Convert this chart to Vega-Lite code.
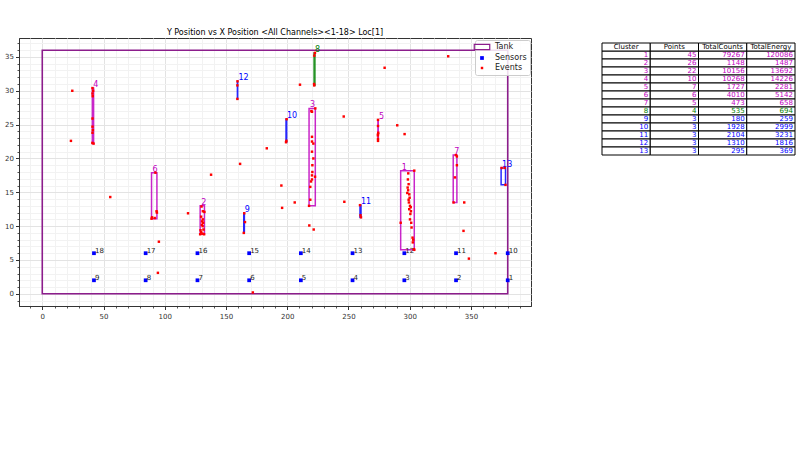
{
  "$schema": "https://vega.github.io/schema/vega-lite/v6.json",
  "padding": {"left": 4, "top": 28, "right": 0, "bottom": 0},
  "bounds": "flush",
  "spacing": 71,
  "config": {"font": "DejaVu Sans", "view": {"stroke": "#333", "strokeWidth": 1}},
  "datasets": {
    "clusters": [
      {"Cluster": 1, "Points": 45, "TotalCounts": 79267, "TotalEnergy": 120086, "xmin": 292.6, "xmax": 303.7, "ymin": 6.5, "ymax": 18.2},
      {"Cluster": 2, "Points": 26, "TotalCounts": 1148, "TotalEnergy": 1487, "xmin": 128.9, "xmax": 132.4, "ymin": 8.8, "ymax": 13.0},
      {"Cluster": 3, "Points": 22, "TotalCounts": 10156, "TotalEnergy": 13692, "xmin": 217.8, "xmax": 222.9, "ymin": 13.0, "ymax": 27.4},
      {"Cluster": 4, "Points": 10, "TotalCounts": 10268, "TotalEnergy": 14226, "xmin": 40.9, "xmax": 41.9, "ymin": 22.2, "ymax": 30.4},
      {"Cluster": 5, "Points": 7, "TotalCounts": 1727, "TotalEnergy": 2281, "xmin": 274.0, "xmax": 274.3, "ymin": 22.6, "ymax": 25.7},
      {"Cluster": 6, "Points": 6, "TotalCounts": 4010, "TotalEnergy": 5142, "xmin": 89.2, "xmax": 93.6, "ymin": 11.1, "ymax": 17.9},
      {"Cluster": 7, "Points": 5, "TotalCounts": 473, "TotalEnergy": 658, "xmin": 335.5, "xmax": 338.5, "ymin": 13.5, "ymax": 20.5},
      {"Cluster": 8, "Points": 4, "TotalCounts": 535, "TotalEnergy": 694, "xmin": 221.9, "xmax": 222.6, "ymin": 30.8, "ymax": 35.6},
      {"Cluster": 9, "Points": 3, "TotalCounts": 180, "TotalEnergy": 259, "xmin": 164.5, "xmax": 165.0, "ymin": 9.0, "ymax": 11.9},
      {"Cluster": 10, "Points": 3, "TotalCounts": 1928, "TotalEnergy": 2999, "xmin": 199.0, "xmax": 199.5, "ymin": 22.4, "ymax": 25.8},
      {"Cluster": 11, "Points": 3, "TotalCounts": 2104, "TotalEnergy": 3231, "xmin": 259.4, "xmax": 260.2, "ymin": 11.3, "ymax": 13.1},
      {"Cluster": 12, "Points": 3, "TotalCounts": 1310, "TotalEnergy": 1816, "xmin": 159.3, "xmax": 159.5, "ymin": 28.8, "ymax": 31.4},
      {"Cluster": 13, "Points": 3, "TotalCounts": 295, "TotalEnergy": 369, "xmin": 374.6, "xmax": 378.2, "ymin": 16.1, "ymax": 18.6}
    ],
    "tank": [{"xmin": 0, "xmax": 380, "ymin": 0, "ymax": 36}],
    "sensors": [
      {"id": 1, "x": 380.0, "y": 2}, {"id": 2, "x": 337.8, "y": 2}, {"id": 3, "x": 295.6, "y": 2},
      {"id": 4, "x": 253.3, "y": 2}, {"id": 5, "x": 211.1, "y": 2}, {"id": 6, "x": 168.9, "y": 2},
      {"id": 7, "x": 126.7, "y": 2}, {"id": 8, "x": 84.4, "y": 2}, {"id": 9, "x": 42.2, "y": 2},
      {"id": 10, "x": 380.0, "y": 6}, {"id": 11, "x": 337.8, "y": 6}, {"id": 12, "x": 295.6, "y": 6},
      {"id": 13, "x": 253.3, "y": 6}, {"id": 14, "x": 211.1, "y": 6}, {"id": 15, "x": 168.9, "y": 6},
      {"id": 16, "x": 126.7, "y": 6}, {"id": 17, "x": 84.4, "y": 6}, {"id": 18, "x": 42.2, "y": 6}
    ],
    "events": [
      {"x": 303.7, "y": 18.2}, {"x": 298.8, "y": 17.8}, {"x": 298.5, "y": 16.9}, {"x": 299.1, "y": 16.2}, {"x": 298.3, "y": 15.7},
      {"x": 298.7, "y": 15.3}, {"x": 298.0, "y": 14.9}, {"x": 299.6, "y": 14.7}, {"x": 299.1, "y": 13.9}, {"x": 299.3, "y": 13.5},
      {"x": 300.2, "y": 13.0}, {"x": 299.6, "y": 12.5}, {"x": 301.0, "y": 12.2}, {"x": 300.5, "y": 11.8}, {"x": 300.2, "y": 11.0},
      {"x": 301.2, "y": 10.5}, {"x": 292.6, "y": 10.5}, {"x": 301.5, "y": 9.8}, {"x": 302.3, "y": 8.3}, {"x": 302.8, "y": 8.0},
      {"x": 302.5, "y": 7.6}, {"x": 303.4, "y": 6.6}, {"x": 303.7, "y": 6.5}, {"x": 300.8, "y": 12.8}, {"x": 299.9, "y": 14.2},
      {"x": 131.1, "y": 12.2}, {"x": 132.4, "y": 12.1}, {"x": 129.7, "y": 11.4}, {"x": 130.5, "y": 10.7}, {"x": 131.3, "y": 10.5},
      {"x": 130.3, "y": 10.2}, {"x": 130.9, "y": 10.0}, {"x": 131.6, "y": 9.5}, {"x": 129.7, "y": 9.1}, {"x": 130.7, "y": 8.9},
      {"x": 128.9, "y": 8.8}, {"x": 132.1, "y": 8.8}, {"x": 129.2, "y": 9.4}, {"x": 131.0, "y": 11.0}, {"x": 130.0, "y": 12.9},
      {"x": 219.7, "y": 27.0}, {"x": 220.2, "y": 26.9}, {"x": 222.9, "y": 27.4}, {"x": 220.2, "y": 23.2}, {"x": 220.2, "y": 22.5},
      {"x": 221.3, "y": 22.2}, {"x": 220.2, "y": 21.0}, {"x": 221.3, "y": 20.0}, {"x": 220.5, "y": 19.0}, {"x": 220.2, "y": 17.5},
      {"x": 222.7, "y": 17.3}, {"x": 220.2, "y": 16.9}, {"x": 219.4, "y": 16.6}, {"x": 218.8, "y": 15.8}, {"x": 218.8, "y": 13.9},
      {"x": 217.8, "y": 13.0}, {"x": 220.5, "y": 18.0},
      {"x": 41.0, "y": 30.4}, {"x": 41.5, "y": 30.0}, {"x": 41.0, "y": 29.6}, {"x": 41.2, "y": 29.2}, {"x": 41.0, "y": 25.9},
      {"x": 41.0, "y": 24.7}, {"x": 41.3, "y": 24.2}, {"x": 41.0, "y": 23.8}, {"x": 41.9, "y": 22.2}, {"x": 40.9, "y": 22.3},
      {"x": 274.1, "y": 25.7}, {"x": 274.1, "y": 24.8}, {"x": 274.3, "y": 23.8}, {"x": 274.1, "y": 23.6}, {"x": 274.0, "y": 23.4},
      {"x": 274.1, "y": 22.9}, {"x": 274.1, "y": 22.6},
      {"x": 92.4, "y": 17.9}, {"x": 93.3, "y": 12.2}, {"x": 89.2, "y": 11.1}, {"x": 89.6, "y": 11.3}, {"x": 93.6, "y": 12.0}, {"x": 91.8, "y": 11.2},
      {"x": 337.7, "y": 20.5}, {"x": 338.5, "y": 20.3}, {"x": 338.5, "y": 19.0}, {"x": 336.9, "y": 17.2}, {"x": 335.8, "y": 13.5},
      {"x": 222.6, "y": 35.6}, {"x": 222.1, "y": 35.2}, {"x": 221.9, "y": 31.0}, {"x": 222.0, "y": 30.8},
      {"x": 164.9, "y": 11.9}, {"x": 165.5, "y": 10.6}, {"x": 164.5, "y": 9.0},
      {"x": 199.5, "y": 25.8}, {"x": 199.0, "y": 22.4}, {"x": 199.3, "y": 22.6},
      {"x": 259.4, "y": 13.1}, {"x": 260.2, "y": 11.3}, {"x": 259.8, "y": 11.6},
      {"x": 159.4, "y": 31.4}, {"x": 159.3, "y": 30.8}, {"x": 159.3, "y": 28.8},
      {"x": 375.0, "y": 18.6}, {"x": 377.6, "y": 18.6}, {"x": 378.2, "y": 16.1},
      {"x": 24.5, "y": 30.0}, {"x": 23.4, "y": 22.6}, {"x": 55.5, "y": 14.3}, {"x": 137.8, "y": 17.6}, {"x": 161.5, "y": 19.2},
      {"x": 119.0, "y": 11.9}, {"x": 210.4, "y": 30.9}, {"x": 183.3, "y": 21.5}, {"x": 195.2, "y": 16.0}, {"x": 195.8, "y": 12.7},
      {"x": 206.1, "y": 13.5}, {"x": 246.1, "y": 26.2}, {"x": 246.6, "y": 13.6}, {"x": 218.0, "y": 10.1}, {"x": 221.6, "y": 9.5},
      {"x": 331.4, "y": 35.1}, {"x": 279.5, "y": 33.4}, {"x": 289.8, "y": 24.9}, {"x": 295.8, "y": 23.6}, {"x": 344.5, "y": 13.5},
      {"x": 343.9, "y": 9.3}, {"x": 348.3, "y": 5.2}, {"x": 370.0, "y": 6.0}, {"x": 95.2, "y": 7.7}, {"x": 94.4, "y": 3.1},
      {"x": 171.9, "y": 0.2}
    ]
  },
  "hconcat": [
    {
      "width": 512,
      "height": 268,
      "title": {"text": "Y Position vs X Position <All Channels><1-18> Loc[1]", "fontSize": 8, "fontWeight": "normal", "color": "#000", "offset": 1, "font": "DejaVu Sans"},
      "resolve": {"axis": {"x": "independent", "y": "independent"}},
      "layer": [
        {
          "data": {"name": "tank"},
          "mark": {"type": "rect", "filled": false, "strokeWidth": 1.6},
          "encoding": {
            "x": {"field": "xmin", "type": "quantitative", "scale": {"domain": [-19, 399], "nice": false, "zero": false},
                  "axis": {"orient": "bottom", "values": [-10, 10, 20, 30, 40, 60, 70, 80, 90, 110, 120, 130, 140, 160, 170, 180, 190, 210, 220, 230, 240, 260, 270, 280, 290, 310, 320, 330, 340, 360, 370, 380, 390],
                           "labels": false, "tickSize": 2, "tickColor": "#555", "grid": true, "gridColor": "#f2f2f2", "gridWidth": 1, "domain": false, "title": null}},
            "x2": {"field": "xmax"},
            "y": {"field": "ymin", "type": "quantitative", "scale": {"domain": [-1.8, 37.8], "nice": false, "zero": false},
                  "axis": {"orient": "left", "values": [-1, 1, 2, 3, 4, 6, 7, 8, 9, 11, 12, 13, 14, 16, 17, 18, 19, 21, 22, 23, 24, 26, 27, 28, 29, 31, 32, 33, 34, 36, 37],
                           "labels": false, "tickSize": 2, "tickColor": "#555", "grid": true, "gridColor": "#f2f2f2", "gridWidth": 1, "domain": false, "title": null}},
            "y2": {"field": "ymax"},
            "color": {"datum": "Tank", "type": "nominal",
                      "scale": {"domain": ["Tank", "Sensors", "Events"], "range": ["#8c1d8c", "#0000ff", "#ff0000"]},
                      "legend": {"title": null, "orient": "none", "legendX": 456, "legendY": 2, "padding": 3, "rowPadding": 2,
                                 "labelFont": "DejaVu Sans", "labelFontSize": 8, "labelColor": "#222", "labelOffset": 9,
                                 "fillColor": "rgba(255,255,255,0.85)", "strokeColor": "#cccccc", "cornerRadius": 2,
                                 "encode": {"symbols": {"update": {
                                   "shape": {"signal": "datum.value === 'Tank' ? 'M-1,-0.33H1V0.33H-1Z' : 'square'"},
                                   "size": {"signal": "datum.value === 'Tank' ? 240 : datum.value === 'Sensors' ? 14 : 6"},
                                   "fill": {"signal": "datum.value === 'Tank' ? '#ffffff' : datum.value === 'Sensors' ? '#0000ff' : '#ff0000'"},
                                   "fillOpacity": {"signal": "datum.value === 'Tank' ? 0 : 1"},
                                   "stroke": {"signal": "datum.value === 'Tank' ? '#800080' : datum.value === 'Sensors' ? '#0000ff' : '#ff0000'"},
                                   "strokeWidth": {"signal": "datum.value === 'Tank' ? 1.2 : 0"},
                                   "opacity": {"value": 1}
                                 }}}}}
          }
        },
        {
          "data": {"name": "clusters"},
          "mark": {"type": "rect", "filled": false, "strokeWidth": 1.5, "opacity": 0.85},
          "encoding": {
            "x": {"field": "xmin", "type": "quantitative", "axis": null},
            "x2": {"field": "xmax"},
            "y": {"field": "ymin", "type": "quantitative", "axis": null},
            "y2": {"field": "ymax"},
            "stroke": {"condition": [{"test": "datum.Cluster == 8", "value": "#008000"}, {"test": "datum.Cluster >= 9", "value": "#0000ff"}], "value": "#bf00bf"}
          }
        },
        {
          "data": {"name": "clusters"},
          "mark": {"type": "text", "align": "left", "baseline": "alphabetic", "dx": 1, "dy": -1, "fontSize": 8, "font": "DejaVu Sans"},
          "encoding": {
            "x": {"field": "xmin", "type": "quantitative", "axis": null},
            "y": {"field": "ymax", "type": "quantitative", "axis": null},
            "text": {"field": "Cluster"},
            "color": {"condition": [{"test": "datum.Cluster == 8", "value": "#008000"}, {"test": "datum.Cluster >= 9", "value": "#0000ff"}], "value": "#bf00bf"}
          }
        },
        {
          "data": {"name": "sensors"},
          "mark": {"type": "point", "shape": "square", "filled": true, "size": 14, "opacity": 1},
          "encoding": {
            "x": {"field": "x", "type": "quantitative", "axis": null},
            "y": {"field": "y", "type": "quantitative", "axis": null},
            "color": {"datum": "Sensors", "type": "nominal"}
          }
        },
        {
          "data": {"name": "sensors"},
          "mark": {"type": "text", "align": "left", "baseline": "alphabetic", "dx": 1, "dy": 0, "fontSize": 7, "font": "DejaVu Sans", "color": "#222"},
          "encoding": {
            "x": {"field": "x", "type": "quantitative", "axis": null},
            "y": {"field": "y", "type": "quantitative", "axis": null},
            "text": {"field": "id"}
          }
        },
        {
          "data": {"name": "events"},
          "mark": {"type": "point", "shape": "square", "filled": true, "size": 6, "opacity": 1},
          "encoding": {
            "x": {"field": "x", "type": "quantitative",
                  "axis": {"orient": "bottom", "values": [0, 50, 100, 150, 200, 250, 300, 350], "title": null, "tickSize": 3.5, "tickColor": "#333",
                           "labelFontSize": 7, "labelFont": "DejaVu Sans", "labelColor": "#333", "labelPadding": 3, "domainColor": "#333",
                           "grid": true, "gridColor": "#e3e3e3", "gridWidth": 1}},
            "y": {"field": "y", "type": "quantitative",
                  "axis": {"orient": "left", "values": [0, 5, 10, 15, 20, 25, 30, 35], "title": null, "tickSize": 3.5, "tickColor": "#333",
                           "labelFontSize": 7, "labelFont": "DejaVu Sans", "labelColor": "#333", "labelPadding": 2, "domainColor": "#333",
                           "grid": true, "gridColor": "#e3e3e3", "gridWidth": 1}},
            "color": {"datum": "Events", "type": "nominal"}
          }
        }
      ]
    },
    {
      "width": 193,
      "height": 117,
      "view": {"stroke": null},
      "layer": [
        {
          "data": {"name": "clusters"},
          "transform": [{"fold": ["Cluster", "Points", "TotalCounts", "TotalEnergy"], "as": ["col", "val"]}],
          "mark": {"type": "rect", "fill": "#ffffff", "stroke": "#000", "strokeWidth": 1},
          "encoding": {
            "x": {"field": "col", "type": "nominal", "scale": {"domain": ["Cluster", "Points", "TotalCounts", "TotalEnergy"], "paddingInner": 0, "paddingOuter": 0}, "axis": null},
            "y": {"field": "Cluster", "type": "ordinal", "scale": {"domain": ["head", 1, 2, 3, 4, 5, 6, 7, 8, 9, 10, 11, 12, 13], "range": [5, 117], "paddingInner": 0, "paddingOuter": 0}, "axis": null}
          }
        },
        {
          "data": {"name": "clusters"},
          "transform": [{"fold": ["Cluster", "Points", "TotalCounts", "TotalEnergy"], "as": ["col", "val"]}],
          "mark": {"type": "text", "align": "right", "baseline": "middle", "dx": 22, "fontSize": 7, "font": "DejaVu Sans"},
          "encoding": {
            "x": {"field": "col", "type": "nominal", "axis": null},
            "y": {"field": "Cluster", "type": "ordinal", "axis": null},
            "text": {"field": "val"},
            "color": {"condition": [{"test": "datum.Cluster == 8", "value": "#008000"}, {"test": "datum.Cluster >= 9", "value": "#0000ff"}], "value": "#bf00bf"}
          }
        },
        {
          "data": {"values": [{"col": "Cluster"}, {"col": "Points"}, {"col": "TotalCounts"}, {"col": "TotalEnergy"}]},
          "mark": {"type": "rect", "fill": "#ffffff", "stroke": "#000", "strokeWidth": 1},
          "encoding": {
            "x": {"field": "col", "type": "nominal", "axis": null},
            "y": {"datum": "head", "type": "ordinal", "axis": null}
          }
        },
        {
          "data": {"values": [{"col": "Cluster"}, {"col": "Points"}, {"col": "TotalCounts"}, {"col": "TotalEnergy"}]},
          "mark": {"type": "text", "align": "center", "baseline": "middle", "fontSize": 7, "font": "DejaVu Sans", "color": "#000"},
          "encoding": {
            "x": {"field": "col", "type": "nominal", "axis": null},
            "y": {"datum": "head", "type": "ordinal", "axis": null},
            "text": {"field": "col"}
          }
        }
      ]
    }
  ]
}
